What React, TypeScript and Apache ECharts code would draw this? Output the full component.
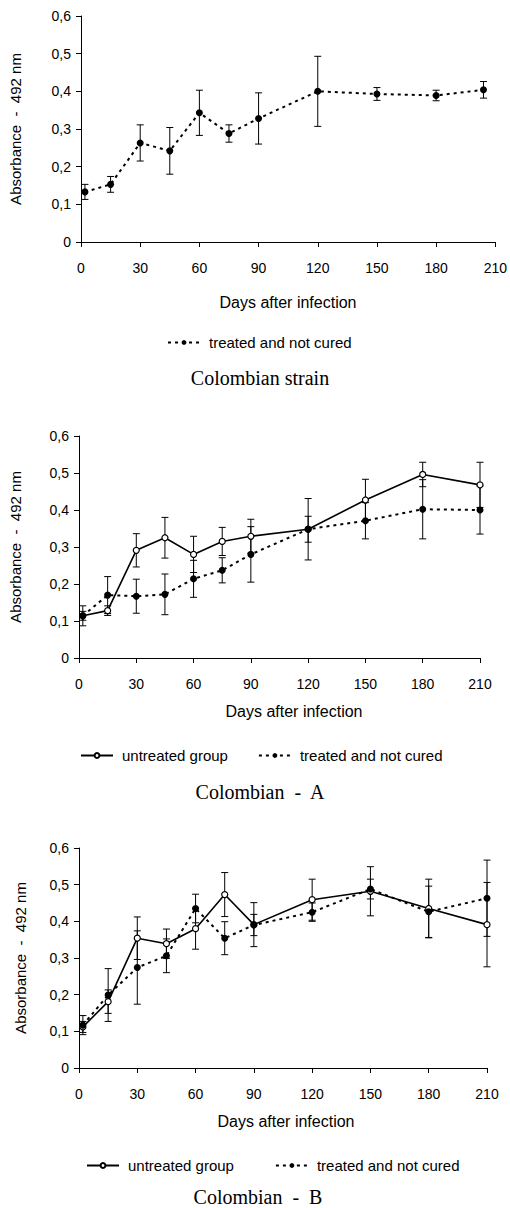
import React, { useEffect, useRef } from "react";
import * as echarts from "echarts";

// ---- data ----
const xTickStep = 30;
const yTickStep = 0.1;

const strainDays = [2, 15, 30, 45, 60, 75, 90, 120, 150, 180, 204];
const strainTreated = [0.133, 0.153, 0.263, 0.242, 0.343, 0.288, 0.328, 0.4, 0.393, 0.389, 0.404];
const strainTreatedErr = [0.02, 0.021, 0.048, 0.062, 0.06, 0.023, 0.068, 0.093, 0.017, 0.014, 0.022];

const daysAB = [2, 15, 30, 45, 60, 75, 90, 120, 150, 180, 210];
const aUntreated = [0.114, 0.128, 0.291, 0.325, 0.28, 0.315, 0.329, 0.348, 0.427, 0.496, 0.468];
const aUntreatedErr = [0.012, 0.013, 0.045, 0.055, 0.049, 0.038, 0.046, 0.035, 0.056, 0.033, 0.061];
const aTreated = [0.114, 0.17, 0.167, 0.172, 0.214, 0.237, 0.28, 0.348, 0.371, 0.402, 0.4];
const aTreatedErr = [0.027, 0.05, 0.046, 0.055, 0.05, 0.034, 0.075, 0.083, 0.049, 0.08, 0.065];

const bUntreated = [0.112, 0.181, 0.354, 0.339, 0.38, 0.473, 0.391, 0.459, 0.482, 0.435, 0.391];
const bUntreatedErr = [0.015, 0.032, 0.058, 0.04, 0.056, 0.06, 0.06, 0.056, 0.067, 0.08, 0.115];
const bTreated = [0.117, 0.199, 0.274, 0.306, 0.435, 0.354, 0.39, 0.425, 0.488, 0.426, 0.463];
const bTreatedErr = [0.026, 0.072, 0.1, 0.046, 0.039, 0.045, 0.029, 0.025, 0.027, 0.07, 0.104];

const UNTREATED = "untreated group";
const TREATED = "treated and not cured";
const titles = ["Colombian strain", "Colombian  -  A", "Colombian  -  B"];
const xName = "Days after infection";
const yName = "Absorbance  -  492 nm";

const SANS = '"Liberation Sans", Arial, sans-serif';
const SERIF = '"Liberation Serif", "Times New Roman", serif';
const INK = "#000";

const pts = (days: number[], vals: number[]) => days.map((d, i) => [d, vals[i]]);
const errs = (days: number[], vals: number[], e: number[]) =>
  days.map((d, i) => [d, vals[i] - e[i], vals[i] + e[i]]);

function errorSeries(idx: number, data: number[][]) {
  return {
    type: "custom",
    xAxisIndex: idx,
    yAxisIndex: idx,
    z: 1,
    silent: true,
    encode: { x: 0, y: [1, 2] },
    data,
    renderItem: (_p: any, api: any) => {
      const x = api.value(0);
      const lo = api.coord([x, api.value(1)]);
      const hi = api.coord([x, api.value(2)]);
      const hw = 3.5;
      const st = { stroke: INK, lineWidth: 1 };
      return {
        type: "group",
        children: [
          { type: "line", shape: { x1: lo[0], y1: lo[1], x2: hi[0], y2: hi[1] }, style: st },
          { type: "line", shape: { x1: lo[0] - hw, y1: lo[1], x2: lo[0] + hw, y2: lo[1] }, style: st },
          { type: "line", shape: { x1: hi[0] - hw, y1: hi[1], x2: hi[0] + hw, y2: hi[1] }, style: st },
        ],
      };
    },
  };
}

function untreatedLine(idx: number, data: number[][]) {
  return {
    type: "line",
    name: UNTREATED,
    xAxisIndex: idx,
    yAxisIndex: idx,
    z: 3,
    data,
    symbol: "circle",
    symbolSize: 6,
    showAllSymbol: true,
    lineStyle: { color: INK, width: 1.6, type: "solid" },
    itemStyle: { color: "#fff", borderColor: INK, borderWidth: 1.2 },
  };
}

function treatedLine(idx: number, data: number[][]) {
  return {
    type: "line",
    name: TREATED,
    xAxisIndex: idx,
    yAxisIndex: idx,
    z: 4,
    data,
    symbol: "circle",
    symbolSize: 7,
    showAllSymbol: true,
    lineStyle: { color: INK, width: 2, type: [3, 4] },
    itemStyle: { color: INK, borderColor: INK, borderWidth: 0 },
  };
}

const grids = [
  { left: 76, top: 16, width: 420, height: 226 },
  { left: 76, top: 436, width: 404, height: 222 },
  { left: 79, top: 848, width: 408, height: 220 },
];
const yNameGaps = [58, 56, 51];

export default function App() {
  const ref = useRef<HTMLDivElement>(null);
  useEffect(() => {
    if (!ref.current) return;
    const chart = echarts.init(ref.current, undefined, { renderer: "svg" });
    const axisLabel = { color: INK, fontFamily: SANS, fontSize: 14 };
    const xAxis = grids.map((_, i) => ({
      type: "value",
      gridIndex: i,
      min: 0,
      max: 210,
      interval: xTickStep,
      axisLine: { show: true, lineStyle: { color: INK, width: 1 } },
      axisTick: { show: true, length: 5, lineStyle: { color: INK } },
      axisLabel: { ...axisLabel, margin: 19 },
      splitLine: { show: false },
    }));
    const yAxis = grids.map((_, i) => ({
      type: "value",
      gridIndex: i,
      min: 0,
      max: 0.6,
      interval: yTickStep,
      name: yName,
      nameLocation: "middle",
      nameGap: yNameGaps[i],
      nameRotate: 90,
      nameTextStyle: { color: INK, fontFamily: SANS, fontSize: 15 },
      axisLine: { show: true, lineStyle: { color: INK, width: 1 } },
      axisTick: { show: true, length: 5, lineStyle: { color: INK } },
      axisLabel: {
        ...axisLabel,
        margin: 10,
        formatter: (v: number) => (v === 0 ? "0" : v.toFixed(1).replace(".", ",")),
      },
      splitLine: { show: false },
    }));

    const legendBase = {
      orient: "horizontal",
      selectedMode: false,
      itemWidth: 32,
      itemHeight: 6,
      textStyle: { color: INK, fontFamily: SANS, fontSize: 15, padding: [0, 0, 0, 4] },
    };

    const text = (t: string, x: number, y: number, font: string) => ({
      type: "text",
      x,
      y,
      style: { text: t, fill: INK, font, textAlign: "center", textVerticalAlign: "middle" },
    });

    chart.setOption({
      animation: false,
      backgroundColor: "#fff",
      grid: grids,
      xAxis,
      yAxis,
      legend: [
        { ...legendBase, data: [TREATED], left: 162, top: 330 },
        { ...legendBase, data: [UNTREATED, TREATED], left: 75, top: 743, itemGap: 30 },
        { ...legendBase, data: [UNTREATED, TREATED], left: 81, top: 1153, itemGap: 41 },
      ],
      graphic: [
        text(xName, 288, 302, `16px ${SANS}`),
        text(xName, 294, 711, `16px ${SANS}`),
        text(xName, 286, 1121, `16px ${SANS}`),
        text(titles[0], 260, 378, `20px ${SERIF}`),
        text(titles[1], 260, 792, `20px ${SERIF}`),
        text(titles[2], 258, 1197, `20px ${SERIF}`),
      ],
      series: [
        errorSeries(0, errs(strainDays, strainTreated, strainTreatedErr)),
        treatedLine(0, pts(strainDays, strainTreated)),

        errorSeries(1, errs(daysAB, aUntreated, aUntreatedErr)),
        errorSeries(1, errs(daysAB, aTreated, aTreatedErr)),
        untreatedLine(1, pts(daysAB, aUntreated)),
        treatedLine(1, pts(daysAB, aTreated)),

        errorSeries(2, errs(daysAB, bUntreated, bUntreatedErr)),
        errorSeries(2, errs(daysAB, bTreated, bTreatedErr)),
        untreatedLine(2, pts(daysAB, bUntreated)),
        treatedLine(2, pts(daysAB, bTreated)),
      ],
    });
    return () => chart.dispose();
  }, []);

  return (
    <div
      ref={ref}
      style={{ position: "absolute", left: 0, top: 0, width: 510, height: 1208, background: "#fff" }}
    />
  );
}
